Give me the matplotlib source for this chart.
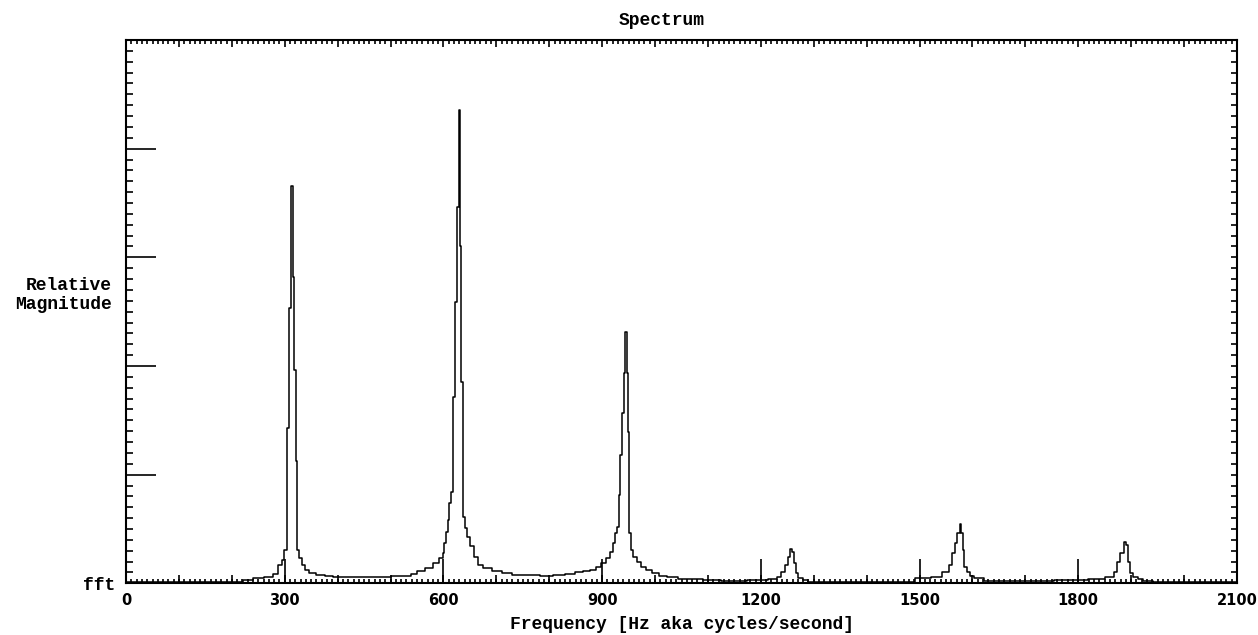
import matplotlib
matplotlib.use("Agg")
import matplotlib.pyplot as plt
from matplotlib.ticker import MultipleLocator, FixedLocator

# spectrum, (Hz, relative magnitude) per bin
FREQ_HZ = [
    0, 20, 60, 100, 150, 200, 215, 229, 250, 272, 282, 291, 297, 301,
    306, 311, 314, 316, 319, 322, 325, 329, 335, 342, 351, 367, 386, 398,
    450, 493, 510, 531, 545, 556, 575, 587, 597, 600, 603, 606, 609.5, 612.5,
    617.4, 620.5, 623.6, 627.4, 630.2, 632.5, 635.5, 639.5, 642, 647, 654,
    660, 669, 682, 701, 720, 739, 770, 795, 820, 840, 858, 870, 883.5, 893,
    902, 912, 918, 922.7, 926, 929.3, 932.5, 935.6, 938.8, 942, 945, 947.3,
    950, 953.2, 956, 962, 969, 978, 987.5, 1000, 1016, 1029, 1057, 1080,
    1100, 1150, 1199, 1227, 1233, 1243, 1249, 1254, 1257.5, 1261, 1265,
    1268, 1274, 1284, 1293, 1350, 1426, 1470, 1511, 1533, 1552, 1558, 1564,
    1569, 1574, 1577, 1580, 1583, 1586, 1593, 1599, 1608, 1634, 1653, 1700,
    1747, 1760, 1800, 1838, 1864, 1870, 1876, 1882, 1889, 1893, 1896, 1900,
    1908, 1917, 1927, 1955, 2000, 2050, 2100,
]
MAGNITUDE = [
    0.012, 0.010, 0.012, 0.010, 0.012, 0.012, 0.015, 0.030, 0.046, 0.060,
    0.090, 0.170, 0.210, 0.310,
    1.43, 2.53, 3.66, 2.82, 1.96, 1.13, 0.31, 0.23, 0.17, 0.12, 0.098,
    0.076, 0.066, 0.055,
    0.055, 0.055, 0.066, 0.070, 0.090, 0.110, 0.138, 0.184, 0.230, 0.276,
    0.370, 0.475, 0.580, 0.736,
    0.843, 1.717, 2.59, 3.466, 4.355, 3.10, 1.855, 0.61, 0.51, 0.43, 0.34,
    0.245, 0.170, 0.138, 0.113, 0.092, 0.077, 0.077, 0.067, 0.080, 0.085,
    0.107, 0.110, 0.122, 0.153,
    0.184, 0.230, 0.290, 0.370, 0.460, 0.52, 0.81, 1.18, 1.565, 1.933,
    2.315, 1.933,
    1.395, 0.46, 0.31, 0.245, 0.20, 0.153, 0.122, 0.092, 0.067, 0.055,
    0.042, 0.042,
    0.030, 0.025, 0.030, 0.037, 0.060, 0.107, 0.170, 0.245, 0.32, 0.29,
    0.184,
    0.092, 0.046, 0.030, 0.015, 0.012, 0.010, 0.015, 0.046, 0.060, 0.107,
    0.170, 0.276,
    0.370, 0.460, 0.550, 0.460, 0.310, 0.153, 0.107, 0.067, 0.046, 0.024,
    0.020, 0.020,
    0.020, 0.030, 0.030, 0.042, 0.060, 0.107, 0.200, 0.276, 0.383, 0.350,
    0.200, 0.092,
    0.055, 0.037, 0.024, 0.012, 0.012, 0.010, 0.010,
]

X_TICKS = [0, 300, 600, 900, 1200, 1500, 1800, 2100]
Y_TICKS = [0, 1, 2, 3, 4, 5]
Y_TICK_LABELS = ["fft", "", "", "", "", ""]

MONO = "Liberation Mono"

fig = plt.figure(figsize=(12.58, 6.35), dpi=100)
ax = fig.add_axes([0.1002, 0.0814, 0.8831, 0.8556])

ax.plot(FREQ_HZ, MAGNITUDE, color="black", lw=1.1, drawstyle="steps-mid")
ax.set_xlim(0, 2100)
ax.set_ylim(0, 5)

for s in ax.spines.values():
    s.set_linewidth(1.5)

# bottom: 300 Hz majors, 10 Hz minors
ax.xaxis.set_ticks_position("bottom")
ax.set_xticks(X_TICKS, labels=[str(t) for t in X_TICKS],
              fontfamily="DejaVu Sans", fontweight="bold", fontsize=10.5)
ax.xaxis.set_minor_locator(MultipleLocator(10))
ax.tick_params(axis="x", which="major", direction="in", length=17, width=1.2, pad=7)
ax.tick_params(axis="x", which="minor", direction="in", length=3, width=1.2)

# bottom: 100 Hz mid ticks
mid = ax.secondary_xaxis("bottom")
mid.set_xticks(list(range(0, 2101, 100)))
mid.tick_params(direction="in", length=6, width=1.2, labelbottom=False)
mid.spines["bottom"].set_visible(False)

# top axis
top = ax.secondary_xaxis("top")
top.set_xticks(list(range(0, 2101, 100)))
top.xaxis.set_minor_locator(MultipleLocator(10))
top.tick_params(which="major", direction="in", length=5, width=1.2, labeltop=False)
top.tick_params(which="minor", direction="in", length=3, width=1.2)
top.spines["top"].set_visible(False)

# left axis
ax.yaxis.set_ticks_position("left")
ax.yaxis.set_major_locator(FixedLocator(Y_TICKS))
ax.set_yticklabels(Y_TICK_LABELS, fontfamily=MONO, fontweight="bold", fontsize=13)
ax.yaxis.set_minor_locator(MultipleLocator(0.1))
ax.tick_params(axis="y", which="major", direction="in", length=21.6, width=1.2, pad=8)
ax.tick_params(axis="y", which="minor", direction="in", length=5, width=1.2)

# right axis
right = ax.secondary_yaxis("right")
right.yaxis.set_major_locator(FixedLocator(Y_TICKS))
right.yaxis.set_minor_locator(MultipleLocator(0.1))
right.tick_params(which="both", direction="in", length=4.5, width=1.2, labelright=False)
right.spines["right"].set_visible(False)

ax.set_title("Spectrum", fontfamily=MONO, fontweight="bold", fontsize=13,
             x=0.4825, pad=11)
ax.set_xlabel("Frequency [Hz aka cycles/second]", fontfamily=MONO,
              fontweight="bold", fontsize=13, labelpad=6)
ax.text(-0.0126, 0.5306, "Relative\nMagnitude", transform=ax.transAxes,
        ha="right", va="center", multialignment="right", linespacing=1.1,
        fontfamily=MONO, fontweight="bold", fontsize=13)

fig.savefig("out.png", dpi=100, facecolor="white")
